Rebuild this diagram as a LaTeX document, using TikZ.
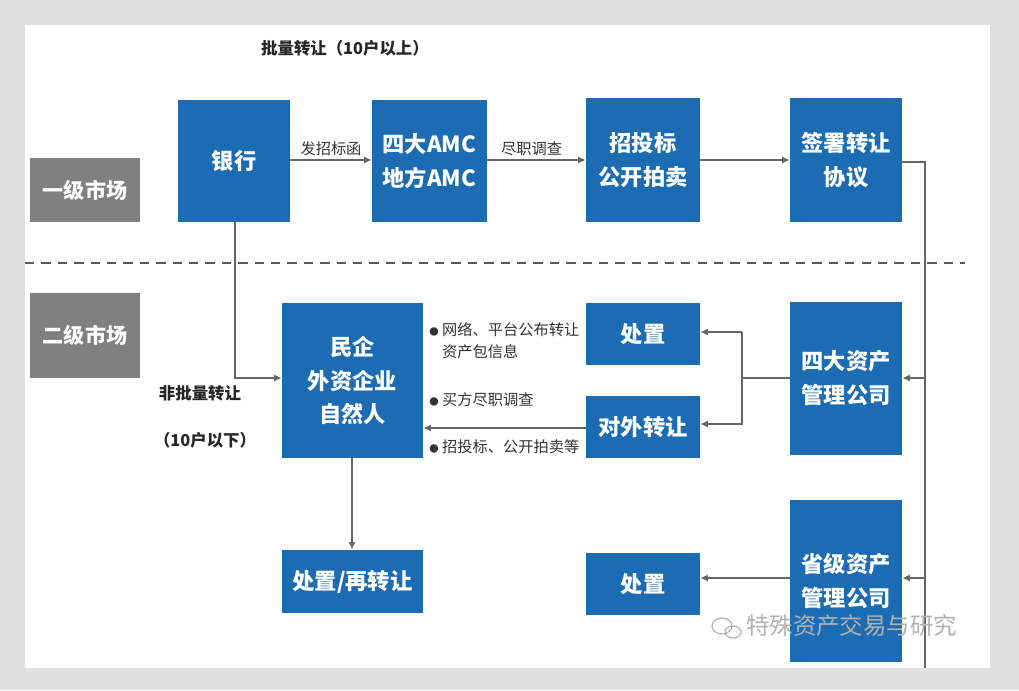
\documentclass[tikz,border=0pt]{standalone}
\usepackage{fontspec}
\setmainfont{Noto Sans CJK SC}
\usetikzlibrary{arrows.meta}
\definecolor{bx}{HTML}{1C6CB4}
\definecolor{gb}{HTML}{808080}
\begin{document}
\begin{tikzpicture}[x=0.03cm,y=-0.03cm,
  bbox/.style={fill=bx,text=white,font=\fontsize{19}{29}\selectfont\bfseries,align=center,inner sep=0pt},
  gbox/.style={fill=gb,text=white,font=\fontsize{18}{22}\selectfont\bfseries,inner sep=0pt},
  ln/.style={draw=gray!80!black,line width=1.2pt},
  ar/.style={ln,-{Latex[length=6.5pt,width=6pt]}},
  lab/.style={font=\fontsize{13}{19}\selectfont,text=black!80,inner sep=1pt},
  blab/.style={font=\fontsize{14}{18}\selectfont\bfseries,text=black!85,inner sep=1pt,align=center}]
\fill[black!12] (0,0) rectangle (1019,690);
\fill[white] (25,25) rectangle (990,668);
\useasboundingbox (0,0) rectangle (1019,690);
\def\bx#1#2#3#4#5#6{\node[bbox,minimum width={(#4-#2)*0.03cm},minimum height={(#5-#3)*0.03cm}] (#1) at ({(#2+#4)/2},{(#3+#5)/2}) {#6};}
\node[gbox,minimum width=3.3cm,minimum height=1.92cm] (m1) at (85,190) {一级市场};
\node[gbox,minimum width=3.3cm,minimum height=2.55cm] (m2) at (85,335) {二级市场};
\bx{bank}{178}{100}{290}{222}{银行}
\bx{amc}{372}{100}{487}{222}{四大AMC\\地方AMC}
\bx{auc}{586}{98}{700}{222}{招投标\\公开拍卖}
\bx{sign}{790}{98}{902}{222}{签署转让\\协议}
\bx{priv}{282}{303}{423}{458}{民企\\外资企业\\自然人}
\bx{cz1}{586}{303}{700}{365}{处置}
\bx{dw}{586}{396}{700}{458}{对外转让}
\bx{sd}{790}{302}{902}{455}{四大资产\\管理公司}
\bx{sj}{790}{500}{902}{662}{省级资产\\管理公司}
\bx{cz2}{586}{553}{700}{615}{处置}
\bx{czz}{282}{550}{423}{613}{处置/再转让}
\draw[line width=2.5pt,draw=gray!70!black,dash pattern=on 8pt off 6pt] (25,263) -- (965,263);
\node[blab] (t1) at (345,48) {批量转让（10户以上）};
\draw[ar] (bank.east|-0,160) -- node[lab,above=2pt] {发招标函} (amc.west|-0,160);
\draw[ar] (amc.east|-0,160) -- node[lab,above=2pt,pos=0.45] {尽职调查} (auc.west|-0,160);
\draw[ar] (auc.east|-0,160) -- (sign.west|-0,160);
\coordinate (r1) at (925,162);
\coordinate (r2) at (925,668);
\draw[ln] (sign.east|-r1) -- (r1) -- (r2);
\draw[ar] (925,378) -- (sd.east|-0,378);
\draw[ar] (925,578) -- (sj.east|-0,578);
\coordinate (s1) at (742,378);
\draw[ln] (sd.west|-s1) -- (s1);
\draw[ar] (742,332) -- (742,424) -- (dw.east|-0,424);
\draw[ar] (742,332) -- (cz1.east|-0,332);
\draw[ar] (dw.west|-0,428) -- (priv.east|-0,428);
\draw[ar] (sj.west|-0,578) -- (cz2.east|-0,578);
\draw[ar] (bank.south-|235,0) -- (235,378) -- (priv.west|-0,378);
\draw[ar] (priv.south-|352,0) -- (czz.north-|352,0);
\node[blab] (t2) at (200,393) {非批量转让};
\node[blab] (t3) at (205,440) {（10户以下）};
\node[lab,anchor=west,align=left] (b1) at (428,341) {{\footnotesize●} 网络、平台公布转让\\\phantom{{\footnotesize●} }资产包信息};
\node[lab,anchor=west] (b2) at (428,400) {{\footnotesize●} 买方尽职调查};
\node[lab,anchor=west] (b3) at (428,447) {{\footnotesize●} 招投标、公开拍卖等};
\node[font=\fontsize{20}{24}\selectfont,text=gray!60,anchor=west] (wm) at (742,626) {特殊资产交易与研究};
\draw[gray!60,line width=1pt] (722,626) ellipse (10 and 8) (733,632) ellipse (8 and 6);
\end{tikzpicture}
\end{document}
